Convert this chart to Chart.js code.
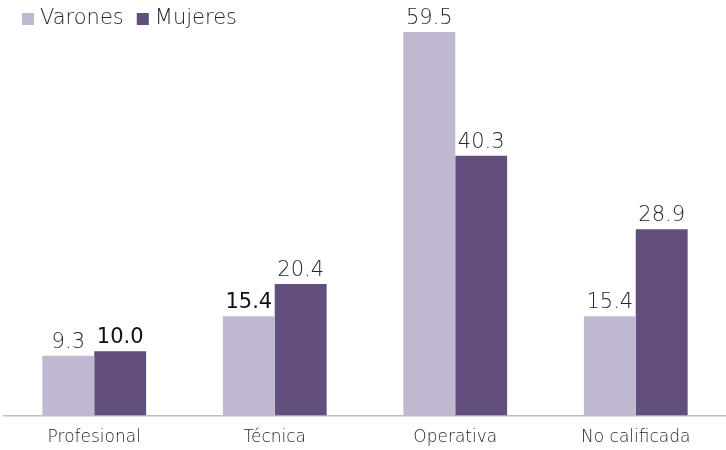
<!DOCTYPE html>
<html>
<head>
<meta charset="utf-8">
<script src="https://cdn.jsdelivr.net/npm/chart.js@4"></script>
<style>
  body { margin: 0; background: #fff; }
  #wrap { width: 726px; height: 450px; }
</style>
</head>
<body>
<div id="wrap"><canvas id="chart"></canvas></div>
<script>
// data
const categories = ['Profesional', 'Técnica', 'Operativa', 'No calificada']
const varones = [9.3, 15.4, 59.5, 15.4]
const mujeres = [10.0, 20.4, 40.3, 28.9]
// which labels are printed darker / bold in the original
const varonesBold = [false, true, false, false]
const mujeresBold = [true, false, false, false]

const FONT = '"DejaVu Sans", sans-serif'
const TEXT = '#262626'

// value labels above bars
const valueLabels = {
  id: 'valueLabels',
  afterDatasetsDraw(chart) {
    const ctx = chart.ctx
    const boldSets = [varonesBold, mujeresBold]
    ctx.save()
    ctx.textAlign = 'center'
    ctx.textBaseline = 'alphabetic'
    chart.data.datasets.forEach((ds, i) => {
      chart.getDatasetMeta(i).data.forEach((bar, j) => {
        const bold = boldSets[i][j]
        ctx.font = (bold ? 'normal ' : '200 ') + '21px ' + FONT
        ctx.fillStyle = bold ? '#111111' : TEXT
        ctx.fillText(ds.data[j].toFixed(1), bar.x, bar.y - 8)
      })
    })
    ctx.restore()
  }
}

// legend in the top-left corner, built from the datasets
const topLegend = {
  id: 'topLegend',
  afterDraw(chart) {
    const ctx = chart.ctx
    ctx.save()
    ctx.font = '200 21px ' + FONT
    ctx.textBaseline = 'middle'
    let x = 22
    chart.data.datasets.forEach((ds) => {
      ctx.fillStyle = ds.backgroundColor
      ctx.fillRect(x, 13, 12, 12)
      x += 18
      ctx.fillStyle = TEXT
      ctx.fillText(ds.label, x, 19)
      x += ctx.measureText(ds.label).width + 13
    })
    ctx.restore()
  }
}

const chart = new Chart(document.getElementById('chart'), {
  type: 'bar',
  data: {
    labels: categories,
    datasets: [
      { label: 'Varones', data: varones, backgroundColor: '#C0B8D0' },
      { label: 'Mujeres', data: mujeres, backgroundColor: '#624F7E' },
    ],
  },
  options: {
    responsive: true,
    maintainAspectRatio: false,
    animation: false,
    layout: { padding: { left: 4, right: 0, top: 32, bottom: -2 } },
    datasets: {
      bar: { categoryPercentage: 0.575, barPercentage: 1.0 },
    },
    scales: {
      x: {
        grid: { display: false },
        border: { color: '#bfbfbf', width: 1.5 },
        ticks: { color: TEXT, padding: 4, font: { family: FONT, size: 17, weight: '200' } },
      },
      y: {
        display: false,
        min: 0,
        max: 59.5,
      },
    },
    plugins: {
      legend: { display: false },
      tooltip: { enabled: false },
    },
  },
  plugins: [valueLabels, topLegend],
})
</script>
</body>
</html>
